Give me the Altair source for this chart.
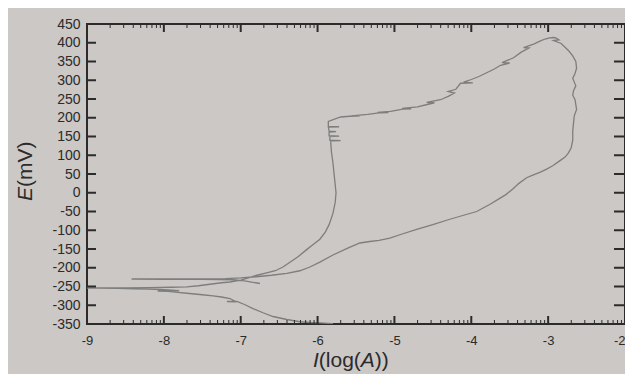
import math
import altair as alt
import pandas as pd

# ---- data: polarization curve (log current, potential mV) ----
log_i = [
    # cathodic branch (start, scanning up toward Ecorr)
    -5.80, -5.97, -6.10, -6.23, -6.40, -6.58, -6.71, -6.84, -6.95, -7.05, -7.18, -7.06,
    -7.14, -7.25, -7.36, -7.50, -7.70, -7.85, -7.95, -8.08, -7.80, -8.05, -8.20, -8.40,
    -8.60, -8.85, -9.00,
    # anodic forward branch
    -8.80, -8.50, -8.20, -7.90, -7.70, -7.55, -7.40, -7.25, -7.14, -7.00, -6.90, -6.79,
    -6.65, -6.55, -6.45, -6.35, -6.25, -6.15, -6.07, -5.97, -5.90, -5.85, -5.80, -5.77,
    -5.76, -5.78, -5.80, -5.82, -5.83, -5.70, -5.84, -5.84, -5.72, -5.85, -5.85, -5.76,
    -5.85, -5.86, -5.72, -5.86, -5.86,
    # pitting branch
    -5.70, -5.58, -5.45, -5.56, -5.35, -5.20, -5.08, -5.22, -5.05, -4.89, -4.78, -4.90,
    -4.70, -4.60, -4.48, -4.58, -4.40, -4.30, -4.22, -4.30, -4.20, -4.14, -3.98, -4.10,
    -4.00, -3.90, -3.80, -3.70, -3.62, -3.50, -3.60, -3.45, -3.35, -3.25, -3.32, -3.18,
    -3.10, -3.04, -2.98, -2.93, -2.90, -2.86, -2.93, -2.83, -2.78, -2.73, -2.68, -2.64,
    -2.63, -2.65, -2.68, -2.66, -2.64, -2.67, -2.68, -2.65, -2.64, -2.63, -2.66, -2.67,
    -2.68, -2.68,
    # reverse scan
    -2.70, -2.74, -2.78, -2.85, -2.94, -3.02, -3.10, -3.20, -3.28, -3.38, -3.46, -3.55,
    -3.63, -3.75, -3.93, -4.10, -4.30, -4.50, -4.70, -4.90, -5.06, -5.20, -5.32, -5.45,
    -5.60, -5.80, -5.97, -6.10, -6.23, -6.40, -6.60, -6.80, -7.00, -7.20, -7.60, -8.00,
    -8.42, -8.00, -7.50, -7.10, -6.95, -6.75,
]
e_mv = [
    -349, -347, -346, -344, -338, -330, -320, -309, -298, -290, -290, -291,
    -282, -278, -275, -272, -268, -265, -263, -262, -261, -258, -257, -256,
    -255, -254, -254,
    -254, -254, -253, -252, -251, -248, -244, -240, -238, -233, -227, -220,
    -213, -208, -198, -184, -170, -153, -140, -124, -105, -85, -55, -25,
    0, 40, 80, 110, 138, 139, 140, 150, 151, 152, 162, 163,
    164, 175, 176, 177, 190,
    202, 204, 205, 205, 209, 213, 214, 214, 217, 223, 224, 225,
    229, 234, 240, 241, 248, 257, 266, 270, 276, 292, 293, 295,
    302, 310, 320, 330, 340, 346, 347, 360, 375, 386, 387, 397,
    405, 410, 413, 414, 413, 408, 406, 398, 388, 378, 365, 350,
    332, 318, 305, 295, 285, 272, 260, 248, 235, 222, 205, 185,
    165, 140,
    120, 105, 95, 85, 72, 63, 55, 47, 40, 25, 10, -5,
    -15, -30, -50, -60, -72, -85, -97, -110, -121, -127, -130, -134,
    -147, -166, -185, -198, -208, -215, -220, -224, -227, -229, -230, -230,
    -230, -231, -231, -232, -235, -242,
]

x_ticks = [-9, -8, -7, -6, -5, -4, -3, -2]
y_ticks = [-350, -300, -250, -200, -150, -100, -50, 0, 50, 100, 150, 200, 250, 300, 350, 400, 450]

W, H = 538, 300
BG = "#ccc8c5"
INK = "#2b2b2b"
FONT = "Liberation Sans"

df = pd.DataFrame({"i": list(range(len(log_i))), "logI": log_i, "E": e_mv})

xs = alt.Scale(domain=[-9, -2], nice=False, zero=False)
ys = alt.Scale(domain=[-350, 450], nice=False, zero=False)
xaxis = alt.Axis(values=x_ticks, title=None, labelExpr="'' + datum.value",
                 labelPadding=10, labelFontSize=13,
                 labelAlign={"condition": {"test": "datum.value == -2", "value": "right"},
                             "value": "center"})
yaxis = alt.Axis(values=y_ticks, title=None, labelExpr="'' + datum.value",
                 labelPadding=7, labelFontSize=14)

line = alt.Chart(df).mark_line(color="#7e7e7e", strokeWidth=1.3, clip=True).encode(
    x=alt.X("logI:Q", scale=xs, axis=xaxis),
    y=alt.Y("E:Q", scale=ys, axis=yaxis),
    order="i:Q",
)

inner_y = [v for v in y_ticks if -350 < v < 450]
inner_x = [v for v in x_ticks if -9 < v < -2]
minor_x = [d + math.log10(k) for d in range(-9, -2) for k in range(2, 10)]

ydf = pd.DataFrame({"E": inner_y})
xdf = pd.DataFrame({"logI": inner_x})
mdf = pd.DataFrame({"logI": minor_x})

yl = alt.Chart(ydf).mark_rule(color=INK, strokeWidth=2).encode(
    y=alt.Y("E:Q", scale=ys, axis=yaxis), x=alt.value(0), x2=alt.value(9))
yr = alt.Chart(ydf).mark_rule(color=INK, strokeWidth=2).encode(
    y=alt.Y("E:Q", scale=ys, axis=yaxis), x=alt.value(W - 11), x2=alt.value(W))
xb = alt.Chart(xdf).mark_rule(color=INK, strokeWidth=2).encode(
    x=alt.X("logI:Q", scale=xs, axis=xaxis), y=alt.value(H - 8), y2=alt.value(H))
xt = alt.Chart(xdf).mark_rule(color=INK, strokeWidth=2).encode(
    x=alt.X("logI:Q", scale=xs, axis=xaxis), y=alt.value(0), y2=alt.value(8))
mb = alt.Chart(mdf).mark_rule(color=INK, strokeWidth=1).encode(
    x=alt.X("logI:Q", scale=xs, axis=xaxis), y=alt.value(H - 4), y2=alt.value(H))
mt = alt.Chart(mdf).mark_rule(color=INK, strokeWidth=1).encode(
    x=alt.X("logI:Q", scale=xs, axis=xaxis), y=alt.value(0), y2=alt.value(4))

one = pd.DataFrame({"a": [0]})
TS = 21


def txt(s, x, y, italic=False, angle=0):
    kw = dict(text=s, font=FONT, fontSize=TS, color=INK, align="left", baseline="alphabetic")
    if italic:
        kw["fontStyle"] = "italic"
    if angle:
        kw["angle"] = angle
    return alt.Chart(one).mark_text(**kw).encode(x=alt.value(x), y=alt.value(y))


# x title: I(log(A))
x0 = 226.0
yb = H + 43
xt1 = txt("I", x0, yb, italic=True)
xt2 = txt("(log(", x0 + 0.278 * TS, yb)
xt3 = txt("A", x0 + 2.278 * TS, yb, italic=True)
xt4 = txt("))", x0 + 2.945 * TS, yb)

# y title: E(mV), rotated
ybase = 177.0
yx = -55
yt1 = txt("E", yx, ybase, italic=True, angle=270)
yt2 = txt("(mV)", yx, ybase - 0.667 * TS, angle=270)

chart = alt.layer(line, yl, yr, xb, xt, mb, mt, xt1, xt2, xt3, xt4, yt1, yt2).properties(
    width=W, height=H,
    autosize=alt.AutoSizeParams(type="none"),
    padding={"left": 79, "top": 16, "right": 0, "bottom": 50},
    background=BG,
).configure_view(
    stroke=INK, strokeWidth=2, fill=BG
).configure_axis(
    domain=False, grid=False, ticks=False, labelFont=FONT, labelColor=INK,
)

chart.save("out.html", embed_options={"renderer": "svg", "actions": False})
